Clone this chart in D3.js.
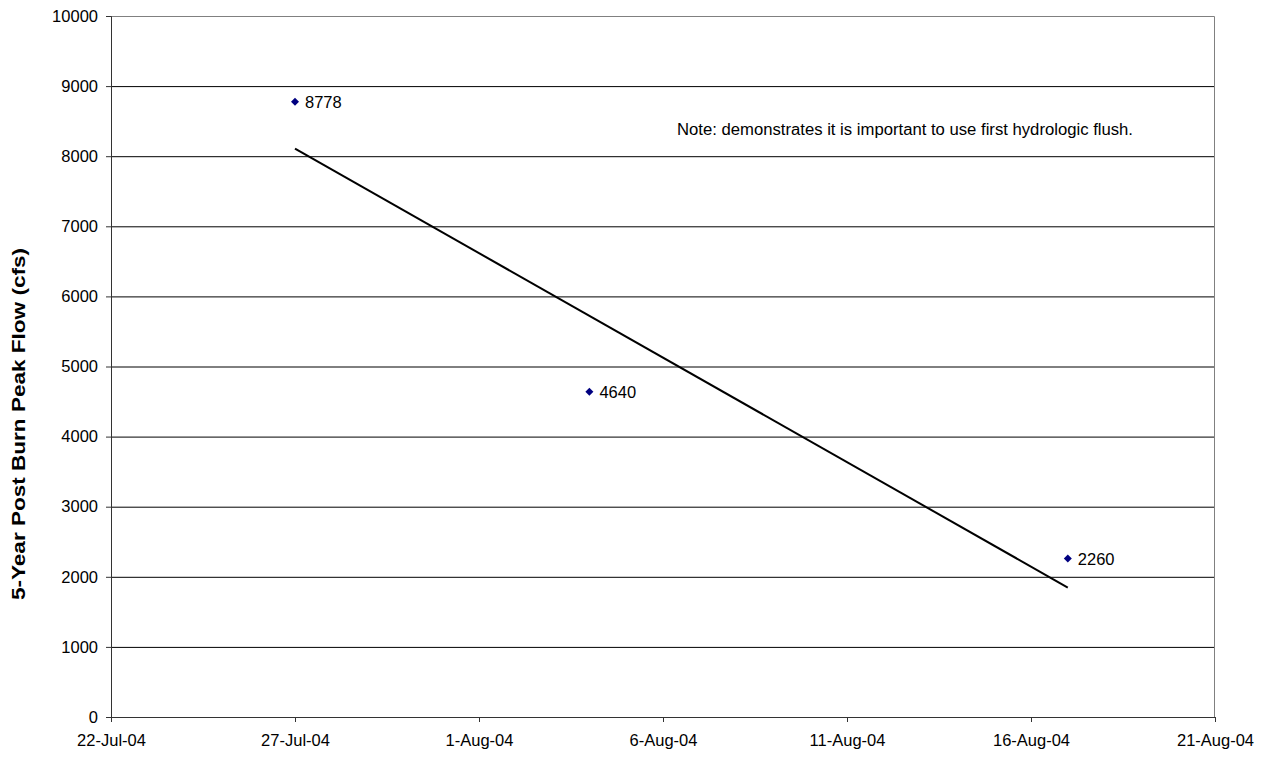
<!DOCTYPE html>
<html lang="en">
<head>
  <meta charset="UTF-8">
  <title>5-Year Post Burn Peak Flow</title>
  <style>
    body { margin: 0; background: #fff; }
    svg { font-family: "Liberation Sans", Arial, sans-serif; }
  </style>
</head>
<body>
  <div id="chart"></div>
  <script src="https://d3js.org/d3.v7.min.js"></script>
  <script>
    // data
    const dates = ['2004-07-27', '2004-08-04', '2004-08-17']
    const flows = [8778, 4640, 2260]
    // linear trendline end points (as drawn by the spreadsheet)
    const trendDates = ['2004-07-27', '2004-08-17']
    const trendFlows = [8108, 1847]
    const xTicks = ['2004-07-22', '2004-07-27', '2004-08-01', '2004-08-06', '2004-08-11', '2004-08-16', '2004-08-21']
    const yTicks = [0, 1000, 2000, 3000, 4000, 5000, 6000, 7000, 8000, 9000, 10000]

    const width = 1274
    const height = 757
    const margin = { top: 16, right: 59, bottom: 40, left: 111 }
    const innerW = width - margin.left - margin.right
    const innerH = height - margin.top - margin.bottom

    const parse = d3.timeParse('%Y-%m-%d')
    const fmt = d3.timeFormat('%-d-%b-%y')

    const svg = d3.select('#chart').append('svg')
      .attr('width', width)
      .attr('height', height)

    const g = svg.append('g')
      .attr('transform', `translate(${margin.left}, ${margin.top})`)

    const x = d3.scaleTime()
      .domain([parse(xTicks[0]), parse(xTicks[xTicks.length - 1])])
      .range([0, innerW])

    const y = d3.scaleLinear()
      .domain([0, 10000])
      .range([innerH, 0])

    // gridlines
    g.append('g')
      .selectAll('line')
      .data(yTicks.filter(d => d > 0 && d < 10000))
      .join('line')
      .attr('x1', 0)
      .attr('x2', innerW)
      .attr('y1', d => y(d) + 0.5)
      .attr('y2', d => y(d) + 0.5)
      .attr('stroke', '#000')
      .attr('stroke-width', 1)

    // plot area border (top and right in grey)
    g.append('path')
      .attr('d', `M0,0.5H${innerW - 0.5}V${innerH}`)
      .attr('fill', 'none')
      .attr('stroke', '#808080')

    // axes
    const yAxis = d3.axisLeft(y)
      .tickValues(yTicks)
      .tickFormat(d3.format('d'))
      .tickSize(5)
      .tickPadding(8)
    const yg = g.append('g').call(yAxis)
    yg.select('.domain').attr('stroke', '#333')
    yg.selectAll('.tick line').attr('stroke', '#333')
    yg.selectAll('text')
      .attr('font-size', 16.5)
      .attr('font-family', '"Liberation Sans", Arial, sans-serif')
      .attr('fill', '#000')

    const xAxis = d3.axisBottom(x)
      .tickValues(xTicks.map(parse))
      .tickFormat(fmt)
      .tickSize(5)
      .tickPadding(12)
    const xg = g.append('g')
      .attr('transform', `translate(0, ${innerH})`)
      .call(xAxis)
    xg.select('.domain').attr('stroke', '#333')
    xg.selectAll('.tick line').attr('stroke', '#333')
    xg.selectAll('text')
      .attr('font-size', 16.5)
      .attr('font-family', '"Liberation Sans", Arial, sans-serif')
      .attr('fill', '#000')

    // y axis title
    svg.append('text')
      .attr('transform', `translate(${25}, ${424}) rotate(-90)`)
      .attr('text-anchor', 'middle')
      .attr('font-size', 19)
      .attr('font-weight', 'bold')
      .attr('textLength', 352)
      .attr('lengthAdjust', 'spacingAndGlyphs')
      .text('5-Year Post Burn Peak Flow (cfs)')

    // trendline
    const line = d3.line()
      .x(d => x(parse(d[0])))
      .y(d => y(d[1]))
    g.append('path')
      .datum(d3.zip(trendDates, trendFlows))
      .attr('d', line)
      .attr('fill', 'none')
      .attr('stroke', '#000')
      .attr('stroke-width', 2)

    // points
    const pts = d3.zip(dates, flows)
    g.append('g')
      .selectAll('path')
      .data(pts)
      .join('path')
      .attr('d', d3.symbol(d3.symbolDiamond2, 41))
      .attr('transform', d => `translate(${x(parse(d[0]))}, ${y(d[1])})`)
      .attr('fill', '#000080')

    g.append('g')
      .selectAll('text')
      .data(pts)
      .join('text')
      .attr('x', d => x(parse(d[0])) + 10)
      .attr('y', d => y(d[1]) + 6)
      .attr('font-size', 16.5)
      .text(d => d[1])

    // note
    g.append('text')
      .attr('x', 566)
      .attr('y', 119)
      .attr('font-size', 16)
      .attr('textLength', 456)
      .attr('lengthAdjust', 'spacingAndGlyphs')
      .text('Note: demonstrates it is important to use first hydrologic flush.')
  </script>
</body>
</html>
